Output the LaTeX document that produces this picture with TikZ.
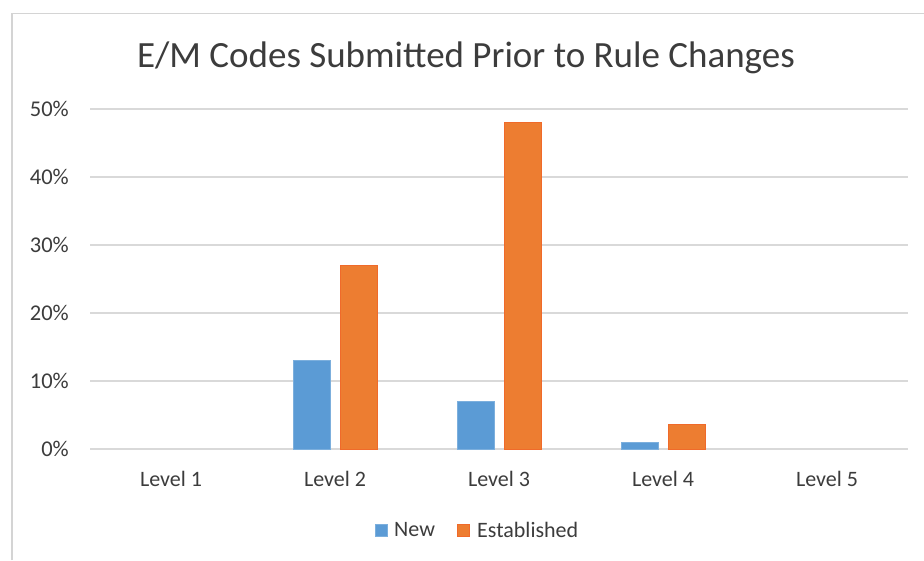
\documentclass[tikz,border=0pt]{standalone}
\usepackage{fontspec}
\setmainfont{Carlito}
\definecolor{txt}{HTML}{3C3C3C}
\definecolor{grid}{HTML}{D9D9D9}
\definecolor{frame}{HTML}{D4D4D4}
\definecolor{newc}{HTML}{5B9BD5}
\definecolor{estc}{HTML}{ED7D31}
\tikzset{
  gridline/.style={draw=grid,line width=1.5pt},
  ylab/.style={anchor=east,inner sep=0pt,text=txt,font=\fontsize{22.5}{26}\selectfont},
  xlab/.style={anchor=center,inner sep=0pt,text=txt,font=\fontsize{22}{26}\selectfont},
  leglab/.style={anchor=west,inner sep=0pt,text=txt,font=\fontsize{22}{26}\selectfont},
  newbar/.style={fill=newc,draw=newc!80!white,line width=0.6pt},
  estbar/.style={fill=estc,draw=estc!85!red,line width=0.6pt},
}
\begin{document}
\begin{tikzpicture}[x=1pt,y=-1pt]
\useasboundingbox (0,0) rectangle (924,560);
\fill[white] (0,0) rectangle (924,560);
% frame
\draw[frame,line width=1.6pt] (12,560) -- (12,13.5) -- (924,13.5);
% title
\node[text=txt,inner sep=0pt,font=\fontsize{37}{42}\selectfont] (title) at (466,58) {E/M Codes Submitted Prior to Rule Changes};
% gridlines and y labels
\foreach \v [count=\i from 0] in {0,10,20,30,40,50}{
  \draw[gridline] (90,449-6.8*\v) -- (908,449-6.8*\v);
  \node[ylab] (y\i) at (69,449-6.8*\v) {\v\%};
}
% bars
\foreach \c/\n/\e [count=\i] in {171/0/0,335/13/27,499/7/48,663/1/3.7,827/0/0}{
  \ifdim \n pt>0pt
    \fill[newbar] (\c-42,449) rectangle (\c-5,449-6.8*\n);
  \fi
  \ifdim \e pt>0pt
    \fill[estbar] (\c+5,449) rectangle (\c+42,449-6.8*\e);
  \fi
  \node[xlab] (lev\i) at (\c,479) {Level \i};
}
% legend
\fill[newbar] (375.5,524.5) rectangle (387.5,536.5);
\node[leglab] (legnew) at (394,530) {New};
\fill[estbar] (457.5,524.5) rectangle (469.5,536.5);
\node[leglab] (legest) at (477,530) {Established};
\end{tikzpicture}
\end{document}
